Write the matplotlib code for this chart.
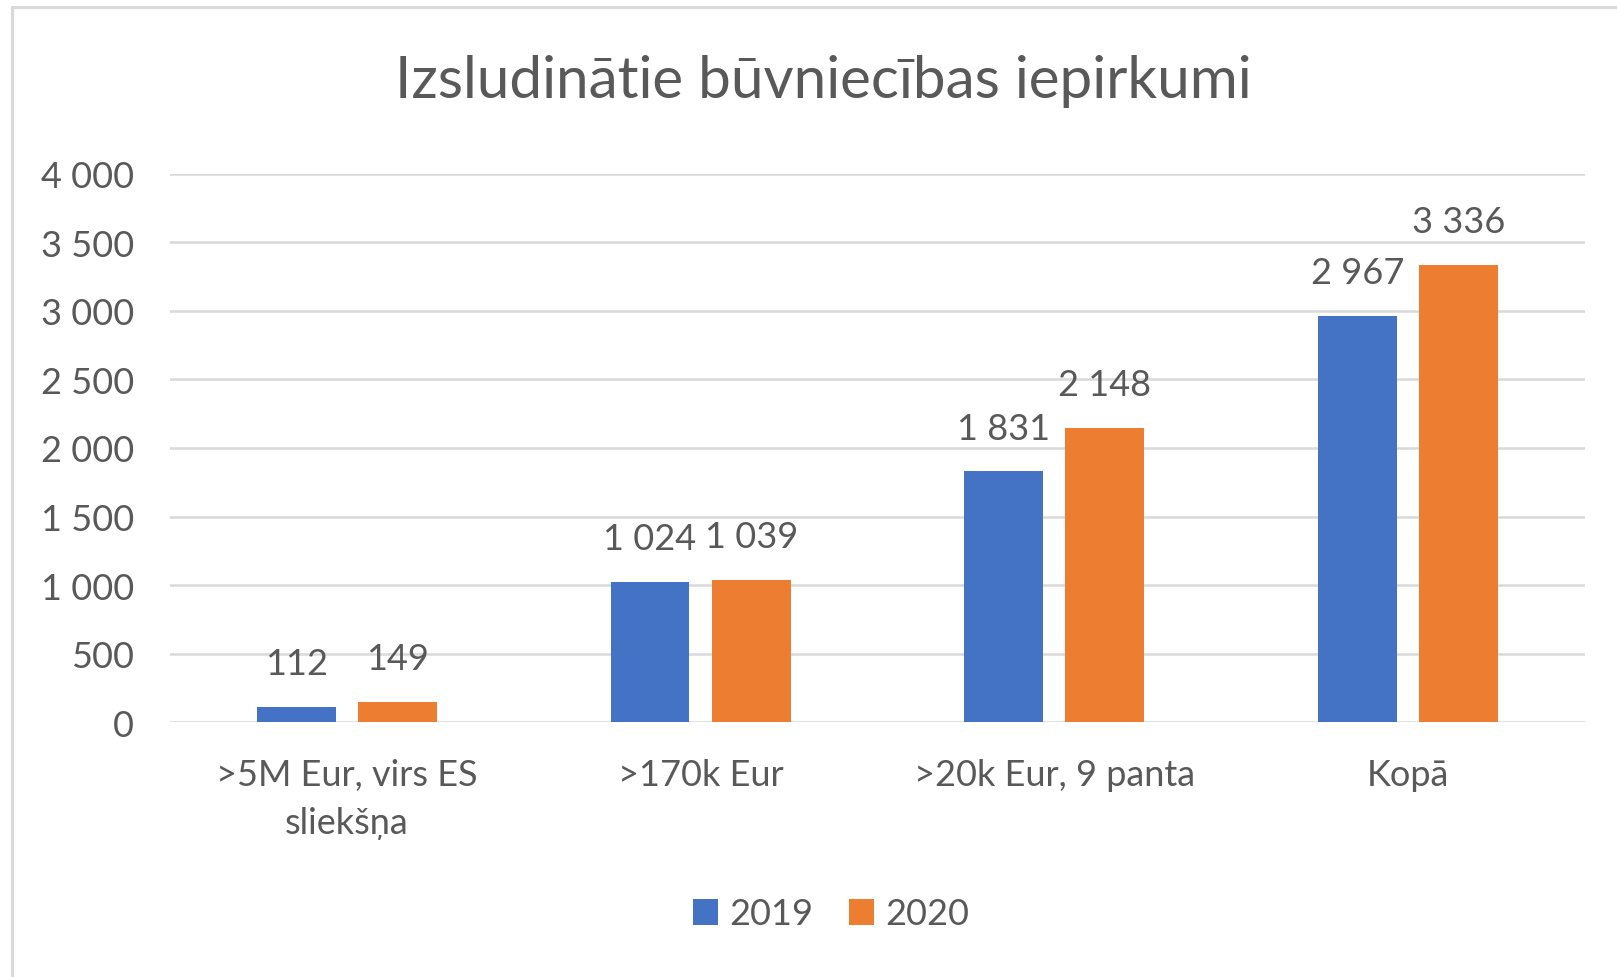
import matplotlib
matplotlib.use("Agg")
import matplotlib.pyplot as plt
import numpy as np
from matplotlib.patches import Rectangle
from matplotlib.ticker import FuncFormatter

title = "Izsludinātie būvniecības iepirkumi"
categories = [">5M Eur, virs ES\nsliekšņa", ">170k Eur", ">20k Eur, 9 panta", "Kopā"]
series_names = ["2019", "2020"]
values_2019 = [112, 1024, 1831, 2967]
values_2020 = [149, 1039, 2148, 3336]
colors = ["#4472C4", "#ED7D31"]
text_color = "#595959"
grid_color = "#D9D9D9"


def fmt(v):
    return f"{int(v):,}".replace(",", " ")


plt.rcParams["font.family"] = ["Lato", "DejaVu Sans"]

fig = plt.figure(figsize=(16.17, 9.78), dpi=100)
ax = fig.add_axes([0.1051, 0.2607, 0.8751, 0.5604])

# outer chart frame (cut off on the right and bottom)
fig.patches.append(Rectangle((12 / 1617, -0.05), 1.1, 1.05 - 7.5 / 978,
                             transform=fig.transFigure, fill=False,
                             edgecolor=grid_color, linewidth=2.2))

x = np.arange(len(categories))
width = 0.223
offset = 0.143
for vals, name, col, sign in zip([values_2019, values_2020], series_names, colors, [-1, 1]):
    bars = ax.bar(x + sign * offset, vals, width, color=col, label=name, zorder=3)
    for b, v in zip(bars, vals):
        ax.annotate(fmt(v), (b.get_x() + b.get_width() / 2, v),
                    xytext=(0, 31), textcoords="offset points",
                    ha="center", va="center", fontsize=26, color=text_color)

ax.set_xlim(-0.5, 3.5)
ax.set_ylim(0, 4000)
ax.set_yticks(np.arange(0, 4001, 500))
ax.yaxis.set_major_formatter(FuncFormatter(lambda v, p: fmt(v)))
ax.set_xticks(x)
ax.set_xticklabels(categories, linespacing=1.55)
ax.tick_params(axis="both", length=0, labelsize=26, labelcolor=text_color)
ax.tick_params(axis="y", pad=26)
ax.tick_params(axis="x", pad=26)
ax.grid(axis="y", color=grid_color, linewidth=1.8, zorder=0)
ax.set_axisbelow(True)
for s in ax.spines.values():
    s.set_visible(False)

fig.text(823 / 1617, 1 - 82 / 978, title, ha="center", va="center",
         fontsize=42, color=text_color)

leg = fig.legend(loc="center", bbox_to_anchor=(831 / 1617, 1 - 915 / 978),
                 ncol=2, frameon=False, fontsize=26, labelcolor=text_color,
                 handlelength=0.7, handleheight=0.7, handletextpad=0.3,
                 columnspacing=1.0)

fig.savefig("out.png", dpi=100, facecolor="white")
